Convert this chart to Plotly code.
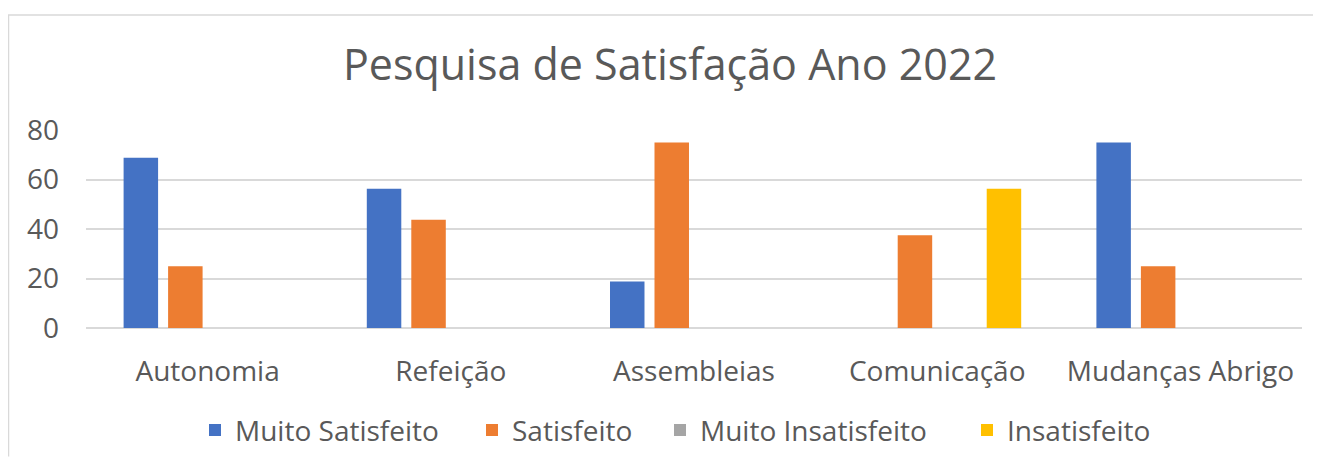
import plotly.graph_objects as go

categories = ["Autonomia", "Refeição", "Assembleias", "Comunicação", "Mudanças Abrigo"]
series_names = ["Muito Satisfeito", "Satisfeito", "Muito Insatisfeito", "Insatisfeito"]
muito_satisfeito = [68.75, 56.25, 18.75, 0, 75]
satisfeito = [25, 43.75, 75, 37.5, 25]
muito_insatisfeito = [0, 0, 0, 0, 0]
insatisfeito = [0, 0, 0, 56.25, 0]
y_ticks = [0, 20, 40, 60, 80]

colors = ["#4472C4", "#ED7D31", "#A5A5A5", "#FFC000"]
values = [muito_satisfeito, satisfeito, muito_insatisfeito, insatisfeito]
# page x of each legend square (reference)
legend_sq_x = [209, 486, 674, 981]

FONT = "Open Sans"
TXT = "#595959"
OFF = 8  # body margin of the html page

W, H = 1321 - OFF, 468 - OFF
L, R, T, B = 86 - OFF, 19, 130 - OFF, 133
pw, ph = W - L - R, H - T - B

def px(x):
    return (x - OFF - L) / pw

def py(y):
    return (H - B - (y - OFF)) / ph

fig = go.Figure()
for i, (name, vals, c) in enumerate(zip(series_names, values, colors)):
    lg = "legend" if i == 0 else f"legend{i+1}"
    fig.add_trace(go.Bar(x=categories, y=vals, name=name, legend=lg,
                         marker=dict(color=c, line=dict(width=0))))

legends = {}
for i, sx in enumerate(legend_sq_x):
    key = "legend" if i == 0 else f"legend{i+1}"
    legends[key] = dict(orientation="h", x=px(sx - 14), xanchor="left", y=py(441), yanchor="middle",
                        font=dict(size=28, color=TXT, family=FONT), itemclick=False,
                        bgcolor="rgba(0,0,0,0)")

fig.update_layout(
    width=W, height=H,
    margin=dict(l=L, r=R, t=T, b=B, pad=0),
    paper_bgcolor="white", plot_bgcolor="white",
    barmode="group", bargap=0.268, bargroupgap=0.225,
    font=dict(family=FONT, color=TXT, size=26),
    title=dict(text="Pesquisa de Satisfação Ano 2022", x=(670 - OFF) / W, xanchor="center",
               y=1 - (65 - OFF) / H, yanchor="middle", font=dict(size=43, color=TXT, family=FONT)),
    xaxis=dict(showgrid=False, showline=False, ticks="", tickfont=dict(size=28, color=TXT),
               ticklabelstandoff=24),
    yaxis=dict(range=[0, 80], tickvals=y_ticks, showgrid=True, gridcolor="#D9D9D9", gridwidth=1.5,
               zeroline=True, zerolinecolor="#D9D9D9", zerolinewidth=1.5, showline=False, ticks="",
               tickfont=dict(size=28, color=TXT), ticklabelstandoff=26),
    showlegend=True,
    **legends,
)
fig.add_shape(type="line", xref="paper", yref="paper", x0=px(8), x1=px(1321), y0=py(11), y1=py(11),
              line=dict(color="#D9D9D9", width=1.5))
fig.add_shape(type="line", xref="paper", yref="paper", x0=px(8.5), x1=px(8.5), y0=py(11), y1=py(468),
              line=dict(color="#D9D9D9", width=1.5))

fig.write_html("out.html")
